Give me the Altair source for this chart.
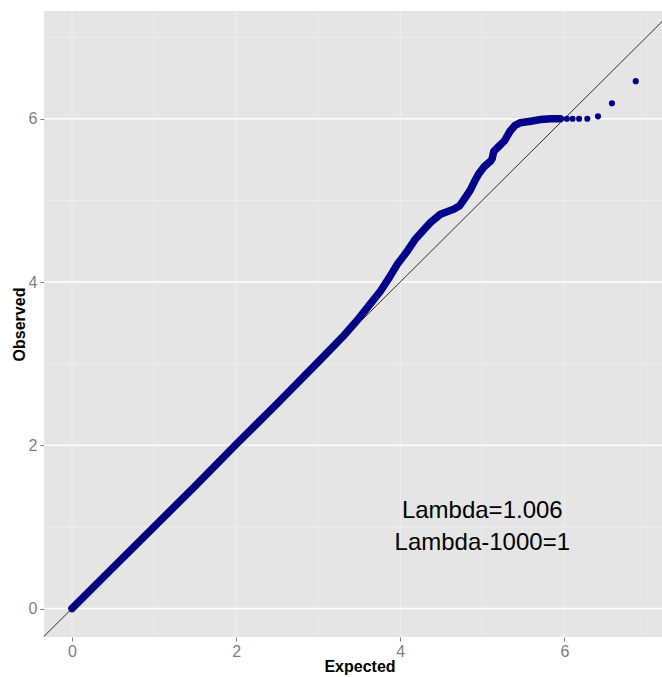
import altair as alt
import pandas as pd

# Dense part of the QQ curve (expected, observed)
dense_expected = [0.00, 0.50, 1.00, 1.50, 2.00, 2.50, 3.00, 3.30, 3.50, 3.65, 3.76, 3.87,
                  3.96, 4.08, 4.18, 4.26, 4.37, 4.49, 4.57, 4.65, 4.72, 4.77, 4.85, 4.91,
                  4.96, 5.02, 5.10, 5.12, 5.14, 5.20, 5.27, 5.34, 5.40, 5.46, 5.59, 5.71,
                  5.83, 5.95]
dense_observed = [0.00, 0.50, 1.00, 1.50, 2.01, 2.51, 3.02, 3.33, 3.56, 3.75, 3.89, 4.06,
                  4.21, 4.37, 4.52, 4.61, 4.73, 4.83, 4.86, 4.89, 4.93, 5.00, 5.12, 5.24,
                  5.33, 5.41, 5.48, 5.51, 5.60, 5.66, 5.73, 5.85, 5.92, 5.95, 5.97, 5.99,
                  6.00, 6.00]
# Sparse tail points
tail_expected = [6.03, 6.10, 6.18, 6.28, 6.41, 6.58, 6.87]
tail_observed = [6.00, 6.00, 6.00, 6.00, 6.03, 6.19, 6.46]

major_ticks = [0, 2, 4, 6]
minor_ticks = [1, 3, 5, 7]
diag_ends = [-0.5, 7.6]
annot_text = ["Lambda=1.006", "Lambda-1000=1"]
annot_x = [5.0, 5.0]
annot_y = [1.2, 0.8]

X_DOMAIN = [-0.341, 7.19]
Y_DOMAIN = [-0.349, 7.32]
FONT = "Liberation Sans"
GREY = "#7F7F7F"

x_axis = alt.Axis(values=major_ticks, grid=False, domain=False, tickColor=GREY, tickSize=4,
                  tickWidth=1, labelColor=GREY, labelFontSize=16, labelFont=FONT,
                  labelPadding=2, format="d", title="Expected", titleFont=FONT,
                  titleFontSize=16, titleFontWeight="bold", titleColor="black",
                  titleX=315.5, titleY=34, titleAlign="center", titleBaseline="alphabetic")
y_axis = alt.Axis(values=major_ticks, grid=False, domain=False, tickColor=GREY, tickSize=4,
                  tickWidth=1, labelColor=GREY, labelFontSize=16, labelFont=FONT,
                  labelPadding=3, format="d", title="Observed", titleFont=FONT,
                  titleFontSize=16, titleFontWeight="bold", titleColor="black",
                  titleX=-20, titleY=313, titleAlign="center", titleBaseline="alphabetic")


def X(field):
    return alt.X(field, type="quantitative", scale=alt.Scale(domain=X_DOMAIN, nice=False, zero=False), axis=x_axis)


def Y(field):
    return alt.Y(field, type="quantitative", scale=alt.Scale(domain=Y_DOMAIN, nice=False, zero=False), axis=y_axis)


dense_df = pd.DataFrame({"x": dense_expected, "y": dense_observed})
tail_df = pd.DataFrame({"x": tail_expected, "y": tail_observed})
minor_df = pd.DataFrame({"x": minor_ticks, "y": minor_ticks})
major_df = pd.DataFrame({"x": major_ticks, "y": major_ticks})
diag_df = pd.DataFrame({"x": [diag_ends[0]], "y": [diag_ends[0]], "x2": [diag_ends[1]], "y2": [diag_ends[1]]})
text_df = pd.DataFrame({"x": annot_x, "y": annot_y, "t": annot_text})

minor_v = alt.Chart(minor_df).mark_rule(color="#EAEAEA", strokeWidth=1).encode(x=X("x"))
minor_h = alt.Chart(minor_df).mark_rule(color="#EFEFEF", strokeWidth=0.9).encode(y=Y("y"))
major_v = alt.Chart(major_df).mark_rule(color="#EEEEEE", strokeWidth=1.2).encode(x=X("x"))
major_h = alt.Chart(major_df).mark_rule(color="#FFFFFF", strokeWidth=1.3).encode(y=Y("y"))

band = alt.Chart(dense_df).mark_line(color="#00008B", strokeWidth=7.5, strokeCap="round",
                                     strokeJoin="round").encode(x=X("x"), y=Y("y"))
dense_pts = alt.Chart(dense_df).mark_circle(color="#00008B", size=40, opacity=1).encode(x=X("x"), y=Y("y"))
tail_pts = alt.Chart(tail_df).mark_circle(color="#00008B", size=38, opacity=1).encode(x=X("x"), y=Y("y"))

diag = alt.Chart(diag_df).mark_rule(color="#1A1A1A", strokeWidth=0.9, clip=True).encode(
    x=X("x"), y=Y("y"), x2="x2", y2="y2")

text = alt.Chart(text_df).mark_text(font=FONT, fontSize=24, color="black", align="center",
                                    baseline="middle").encode(x=X("x"), y=Y("y"), text="t")

chart = alt.layer(minor_v, minor_h, major_v, major_h, band, dense_pts, tail_pts, diag, text).properties(
    width=618, height=626,
    padding={"left": 44, "top": 11, "right": 0, "bottom": 40},
    autosize=alt.AutoSizeParams(type="none"),
    background="white",
).configure_view(fill="#E5E5E5", strokeWidth=0)

chart.save("out.html", embed_options={"renderer": "svg", "actions": False})
